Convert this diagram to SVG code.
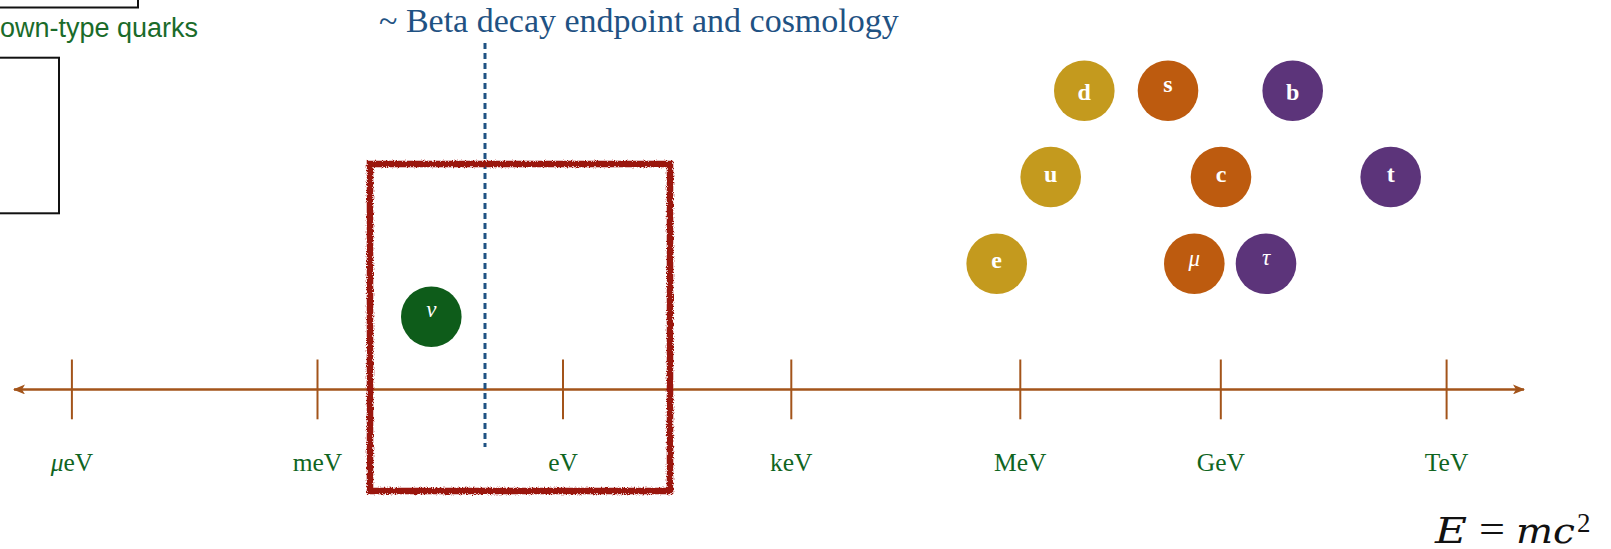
<svg xmlns="http://www.w3.org/2000/svg" width="1611" height="549" viewBox="0 0 1611 549">
<style>
.axis{stroke:#a3541a;stroke-width:2.5;fill:none}
.tick{stroke:#a3541a;stroke-width:2;fill:none}
.unit{font-family:"Liberation Serif",serif;font-size:25.5px;fill:#10651f;text-anchor:middle}
.plab{font-family:"Liberation Serif",serif;font-size:24px;font-weight:bold;fill:#ffffff;text-anchor:middle}
.plabi{font-family:"Liberation Serif",serif;font-size:23px;font-style:italic;fill:#ffffff;text-anchor:middle}
.gold{fill:#c49a1e}
.orange{fill:#bd5b0f}
.purple{fill:#5c347a}
.box{fill:none;stroke:#111111;stroke-width:2}
.fm{font-family:"DejaVu Serif",serif;fill:#111111}
</style>
<defs>
<marker id="ah" viewBox="0 0 12 10" refX="11" refY="5" markerWidth="12" markerHeight="10" markerUnits="userSpaceOnUse" orient="auto-start-reverse">
<path d="M0,0 L12,5 L0,10 L3,5 Z" fill="#a3541a"/>
</marker>
<filter id="rough" x="-5%" y="-5%" width="110%" height="110%">
<feTurbulence type="fractalNoise" baseFrequency="0.9" numOctaves="2" seed="3" result="n"/>
<feDisplacementMap in="SourceGraphic" in2="n" scale="4" xChannelSelector="R" yChannelSelector="G"/>
</filter>
</defs>

<g id="left-boxes">
<rect class="box" x="-10" y="-30" width="148" height="37.5"/>
<rect class="box" x="-10" y="57.7" width="69" height="155.6"/>
<text x="0" y="37" font-family="Liberation Sans, sans-serif" font-size="27" fill="#1a6b2a">own-type quarks</text>
</g>

<g id="connectors">
<line class="axis" x1="14" y1="389.4" x2="1524" y2="389.4" marker-start="url(#ah)" marker-end="url(#ah)"/>
<line stroke="#1f5283" stroke-width="3" stroke-dasharray="6,4" x1="485" y1="43" x2="485" y2="447"/>
</g>

<g id="ticks">
<line class="tick" x1="71.9" y1="359.5" x2="71.9" y2="419.3"/>
<line class="tick" x1="317.5" y1="359.5" x2="317.5" y2="419.3"/>
<line class="tick" x1="563" y1="359.5" x2="563" y2="419.3"/>
<line class="tick" x1="791.3" y1="359.5" x2="791.3" y2="419.3"/>
<line class="tick" x1="1020.3" y1="359.5" x2="1020.3" y2="419.3"/>
<line class="tick" x1="1220.8" y1="359.5" x2="1220.8" y2="419.3"/>
<line class="tick" x1="1446.6" y1="359.5" x2="1446.6" y2="419.3"/>
</g>

<g id="units">
<text class="unit" x="71.9" y="471"><tspan font-style="italic">μ</tspan>eV</text>
<text class="unit" x="317.5" y="471">meV</text>
<text class="unit" x="563" y="471">eV</text>
<text class="unit" x="791.3" y="471">keV</text>
<text class="unit" x="1020.3" y="471">MeV</text>
<text class="unit" x="1220.8" y="471">GeV</text>
<text class="unit" x="1446.6" y="471">TeV</text>
</g>

<g id="title">
<text x="379" y="32" font-family="Liberation Serif, serif" font-size="34" fill="#1f5283">~ Beta decay endpoint and cosmology</text>
</g>

<g id="highlight-box">
<rect x="370" y="164" width="300" height="327" fill="none" stroke="#9a1508" stroke-width="6.5" filter="url(#rough)"/>
</g>

<g id="nu">
<circle cx="431.3" cy="316.7" r="30.3" fill="#0e5c1a"/>
<text class="plabi" x="431.3" y="317">ν</text>
</g>

<g id="d"><circle class="gold" cx="1084.3" cy="90.7" r="30.3"/><text class="plab" x="1084.3" y="100">d</text></g>
<g id="s"><circle class="orange" cx="1168" cy="90.7" r="30.3"/><text class="plab" x="1168" y="91.5">s</text></g>
<g id="b"><circle class="purple" cx="1292.7" cy="90.7" r="30.3"/><text class="plab" x="1292.7" y="100">b</text></g>
<g id="u"><circle class="gold" cx="1050.7" cy="177" r="30.3"/><text class="plab" x="1050.7" y="182">u</text></g>
<g id="c"><circle class="orange" cx="1221" cy="177" r="30.3"/><text class="plab" x="1221" y="182">c</text></g>
<g id="t"><circle class="purple" cx="1390.7" cy="177" r="30.3"/><text class="plab" x="1390.7" y="182">t</text></g>
<g id="e"><circle class="gold" cx="996.7" cy="263.7" r="30.3"/><text class="plab" x="996.7" y="268">e</text></g>
<g id="mu"><circle class="orange" cx="1194.3" cy="263.7" r="30.3"/><text class="plabi" x="1194.3" y="266">μ</text></g>
<g id="tau"><circle class="purple" cx="1266" cy="263.7" r="30.3"/><text class="plabi" x="1266" y="265">τ</text></g>

<g id="formula">
<text class="fm" x="1435" y="543" font-size="36" font-style="italic" textLength="32" lengthAdjust="spacingAndGlyphs">E</text>
<text x="1479" y="543" font-family="Liberation Serif, serif" font-size="40" fill="#111111" textLength="26" lengthAdjust="spacingAndGlyphs">=</text>
<text class="fm" x="1516" y="543" font-size="36" font-style="italic" textLength="59" lengthAdjust="spacingAndGlyphs">mc</text>
<text x="1577" y="531.5" font-family="Liberation Serif, serif" font-size="27" fill="#111111">2</text>
</g>
</svg>
